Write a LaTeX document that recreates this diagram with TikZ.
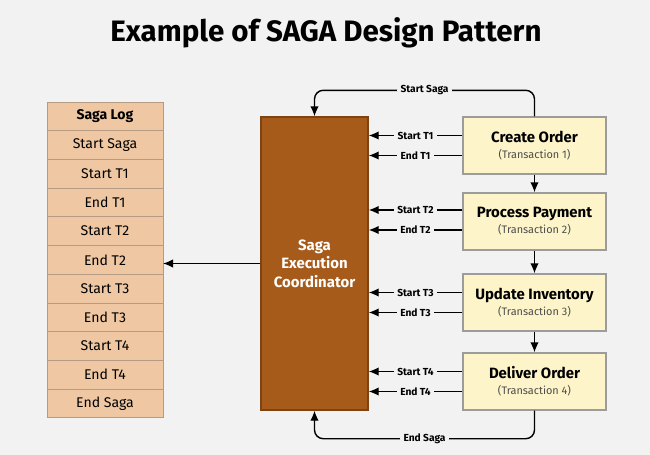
\documentclass[tikz,border=0pt]{standalone}
\usepackage{fontspec}
\setmainfont{Fira Sans}
\usepackage{xcolor}
\usepackage{tikz}
\usetikzlibrary{arrows.meta,positioning}
\definecolor{bgcol}{HTML}{F2F2F2}
\definecolor{logfill}{HTML}{EFC8A3}
\definecolor{logline}{HTML}{B59A84}
\definecolor{coordfill}{HTML}{A65B1B}
\definecolor{coordline}{HTML}{7E4312}
\definecolor{txfill}{HTML}{FDF5C9}
\definecolor{txline}{HTML}{9C9C9C}
\tikzset{
  logrow/.style={
    rectangle,
    draw=logline,
    fill=logfill,
    minimum width=23.2mm,
    minimum height=5.74mm,
    inner sep=0pt,
    outer sep=0pt,
    font=\fontsize{8}{9}\selectfont
  },
  txbox/.style={
    rectangle,
    draw=txline,
    thick,
    fill=txfill,
    minimum width=28.6mm,
    minimum height=11.4mm,
    align=center,
    inner sep=1pt,
    font=\fontsize{8.5}{10}\selectfont\bfseries
  },
  arrow/.style={
    -{Latex[length=2mm,width=1.7mm]},
    thick
  },
  lbl/.style={
    fill=bgcol,
    inner sep=2pt,
    font=\fontsize{5.8}{6}\selectfont\bfseries
  }
}
\newcommand{\txn}[1]{\\[-1pt]{\fontsize{6.2}{7}\selectfont\mdseries\color{black!70}(Transaction #1)}}

\begin{document}
\begin{tikzpicture}[x=0.2mm,y=-0.2mm]

\fill[bgcol] (0,0) rectangle (650,455);
\useasboundingbox (0,0) rectangle (650,455);

\node[font=\fontsize{16.8}{18}\selectfont\bfseries] (title) at (326,33) {Example of SAGA Design Pattern};

% saga log
\node[logrow, font=\fontsize{8}{9}\selectfont\bfseries] (log) at (105,116.35) {Saga Log};
\node[logrow, below=0pt of log] (startsaga) {Start Saga};
\node[logrow, below=0pt of startsaga] (startone) {Start T1};
\node[logrow, below=0pt of startone] (endone) {End T1};
\node[logrow, below=0pt of endone] (starttwo) {Start T2};
\node[logrow, below=0pt of starttwo] (endtwo) {End T2};
\node[logrow, below=0pt of endtwo] (startthree) {Start T3};
\node[logrow, below=0pt of startthree] (endthree) {End T3};
\node[logrow, below=0pt of endthree] (startfour) {Start T4};
\node[logrow, below=0pt of startfour] (endfour) {End T4};
\node[logrow, below=0pt of endfour] (endsaga) {End Saga};

% coordinator
\node[rectangle, draw=coordline, fill=coordfill, thick, minimum width=21.4mm, minimum height=58.6mm,
  align=center, text=white, font=\fontsize{8.5}{10.5}\selectfont\bfseries] (coord) at (314.5,263.5)
  {Saga\\Execution\\Coordinator};

% transactions
\node[txbox] (create) at (534.5,145.5) {Create Order\txn{1}};
\node[txbox] (payment) at (534.5,221.5) {Process Payment\txn{2}};
\node[txbox] (inventory) at (534.5,302.5) {Update Inventory\txn{3}};
\node[txbox] (deliver) at (534.5,381.5) {Deliver Order\txn{4}};

\draw[arrow] (create) -- (payment);
\draw[arrow] (payment) -- (inventory);
\draw[arrow] (inventory) -- (deliver);

\draw[arrow] ([yshift=2mm]create.west) -- ([yshift=2mm]create.west -| coord.east) node[midway, lbl] {Start T1};
\draw[arrow] ([yshift=-2mm]create.west) -- ([yshift=-2mm]create.west -| coord.east) node[midway, lbl] {End T1};
\draw[arrow] ([yshift=2.3mm]payment.west) -- ([yshift=2.3mm]payment.west -| coord.east) node[midway, lbl] {Start T2};
\draw[arrow] ([yshift=-1.7mm]payment.west) -- ([yshift=-1.7mm]payment.west -| coord.east) node[midway, lbl] {End T2};
\draw[arrow] ([yshift=2mm]inventory.west) -- ([yshift=2mm]inventory.west -| coord.east) node[midway, lbl] {Start T3};
\draw[arrow] ([yshift=-2mm]inventory.west) -- ([yshift=-2mm]inventory.west -| coord.east) node[midway, lbl] {End T3};
\draw[arrow] ([yshift=2mm]deliver.west) -- ([yshift=2mm]deliver.west -| coord.east) node[midway, lbl] {Start T4};
\draw[arrow] ([yshift=-2mm]deliver.west) -- ([yshift=-2mm]deliver.west -| coord.east) node[midway, lbl] {End T4};

\draw[arrow, rounded corners=5pt] (create.north) -- ++(0,-26) -| node[pos=0.25, lbl] {Start Saga} (coord.north);
\draw[arrow, rounded corners=5pt] (deliver.south) -- ++(0,28) -| node[pos=0.25, lbl] {End Saga} (coord.south);

\draw[arrow] (coord.west) -- (coord.west -| endtwo.east);

\end{tikzpicture}
\end{document}
